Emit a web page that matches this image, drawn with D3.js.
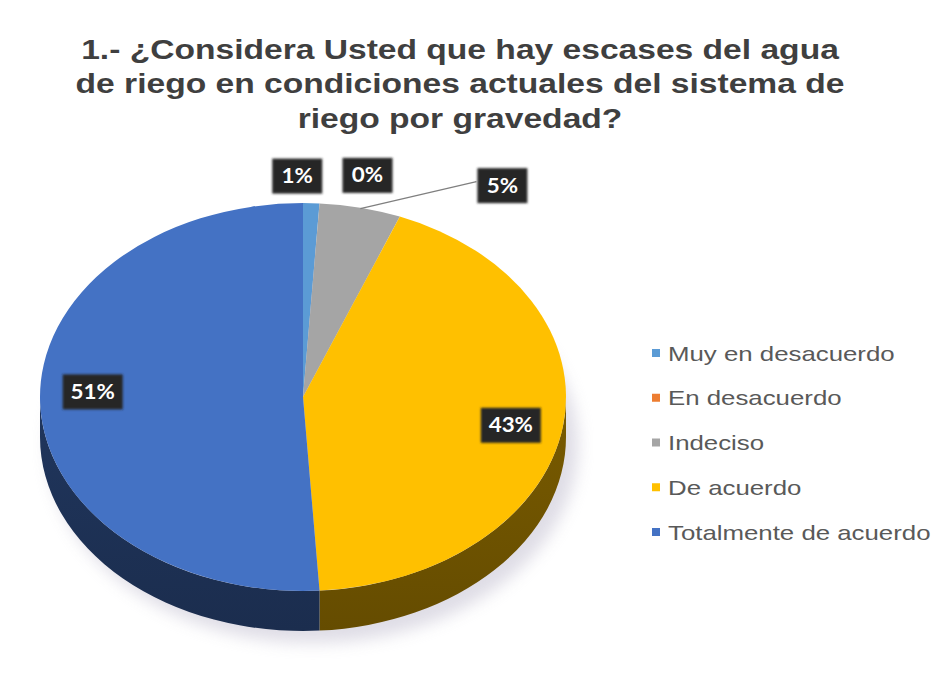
<!DOCTYPE html>
<html>
<head>
<meta charset="utf-8">
<script src="https://cdn.jsdelivr.net/npm/d3@7"></script>
<style>
  html, body { margin: 0; padding: 0; background: #ffffff; }
  svg { display: block; }
</style>
</head>
<body>
<script>
// Survey answers, in drawing order (clockwise from 12 o'clock)
const categories = ["Muy en desacuerdo", "En desacuerdo", "Indeciso", "De acuerdo", "Totalmente de acuerdo"];
const values = [1, 0, 5, 43, 51];
const colors = ["#5B9BD5", "#ED7D31", "#A5A5A5", "#FFC000", "#4472C4"];
const titleLines = [
  "1.- ¿Considera Usted que hay escases del agua",
  "de riego en condiciones actuales del sistema de",
  "riego por gravedad?"
];

const W = 936, H = 688;
const stretch = 1.23;            // horizontal stretch applied to legend text
const cx = 303, cy = 397;        // centre of the pie's top face
const rx = 263, ry = 194;        // ellipse radii of the top face
const depth = 40;                // thickness of the disc

const svg = d3.select("body").append("svg")
  .attr("width", W).attr("height", H);

const defs = svg.append("defs");
const sh = defs.append("filter").attr("id", "shadow")
  .attr("x", "-20%").attr("y", "-20%").attr("width", "140%").attr("height", "140%");
sh.append("feGaussianBlur").attr("stdDeviation", 8);

const boxBlur = defs.append("filter").attr("id", "soft");
boxBlur.append("feGaussianBlur").attr("stdDeviation", 0.8);

// Title
const title = svg.append("g").attr("class", "title");
titleLines.forEach((t, i) => {
  title.append("text")
    .attr("transform", `translate(460,${58.5 + i * 34.5}) scale(1.2,1)`)
    .attr("text-anchor", "middle")
    .attr("font-family", "Liberation Sans, Arial, sans-serif")
    .attr("font-weight", "bold")
    .attr("font-size", 28)
    .attr("fill", "#3f3f3f")
    .text(t);
});

// Pie angles
const pie = d3.pie().sort(null).value(d => d)(values);
const arcs = pie.map((p, i) => ({ ...p, i, name: categories[i], color: colors[i] }));

const pt = (a, dy = 0) => [cx + rx * Math.sin(a), cy - ry * Math.cos(a) + dy];

// Soft shadow under the disc
svg.append("ellipse")
  .attr("cx", cx + 10).attr("cy", cy + depth + 8)
  .attr("rx", rx + 2).attr("ry", ry + 4)
  .attr("fill", "#b8b4c8").attr("opacity", 0.45)
  .attr("filter", "url(#shadow)");

// Side walls: only the front half (angles between PI/2 and 3PI/2) is visible
const sideG = svg.append("g").attr("class", "sides");
arcs.forEach(d => {
  const a0 = Math.max(d.startAngle, Math.PI / 2);
  const a1 = Math.min(d.endAngle, 3 * Math.PI / 2);
  if (a1 <= a0) return;
  const p0 = pt(a0), p1 = pt(a1), q1 = pt(a1, depth), q0 = pt(a0, depth);
  const large = (a1 - a0) > Math.PI ? 1 : 0;
  const path = `M${p0}A${rx},${ry} 0 ${large} 1 ${p1}L${q1}A${rx},${ry} 0 ${large} 0 ${q0}Z`;
  const base = d3.rgb(d.color);
  const grad = defs.append("linearGradient").attr("id", "side" + d.i)
    .attr("x1", 0).attr("y1", 0).attr("x2", 0).attr("y2", 1);
  grad.append("stop").attr("offset", "0%").attr("stop-color", base.darker(2.1));
  grad.append("stop").attr("offset", "100%").attr("stop-color", base.darker(2.6));
  sideG.append("path").attr("d", path).attr("fill", `url(#side${d.i})`);
});

// Top face: circular d3.arc squashed into an ellipse
const arcGen = d3.arc().innerRadius(0).outerRadius(rx);
svg.append("g")
  .attr("transform", `translate(${cx},${cy}) scale(1,${ry / rx})`)
  .selectAll("path")
  .data(arcs)
  .join("path")
  .attr("d", arcGen)
  .attr("fill", d => d.color);

// Data labels
const mid = d => (d.startAngle + d.endAngle) / 2;
// per-slice nudges for the small slices whose labels sit above the disc
const outsideNudge = { 0: [-14, -27], 1: [48, -28], 2: [142, -22] };

const labels = svg.append("g").attr("class", "labels");
arcs.forEach(d => {
  const a = mid(d);
  let x, y, leader = null;
  if (d.value >= 10) {
    x = cx + rx * 0.8 * Math.sin(a);
    y = cy - ry * 0.8 * Math.cos(a);
    if (d.i === 4) y -= 10; else y += 4;
  } else {
    const [ax, ay] = pt(a);
    const [nx, ny] = outsideNudge[d.i];
    x = ax + nx; y = ay + ny;
    if (d.i === 2) leader = [[ax, ay + 1], [x - 26, y - 4]];
  }
  if (leader) {
    labels.append("path")
      .attr("d", d3.line()(leader))
      .attr("stroke", "#7f7f7f").attr("stroke-width", 1.2).attr("fill", "none");
  }
  const txt = Math.round(d.value) + "%";
  const bw = txt.length === 3 ? 60 : 50, bh = 35;
  labels.append("rect")
    .attr("x", x - bw / 2).attr("y", y - bh / 2)
    .attr("width", bw).attr("height", bh)
    .attr("fill", "#262626").attr("filter", "url(#soft)");
  labels.append("text")
    .attr("transform", `translate(${x},${y + 7}) scale(1.12,1)`)
    .attr("text-anchor", "middle")
    .attr("font-family", "Lato, Liberation Sans, sans-serif")
    .attr("font-weight", "bold")
    .attr("font-size", 20)
    .attr("fill", "#ffffff")
    .text(txt);
});

// Legend
const legend = svg.append("g").attr("class", "legend");
const ly = d3.scalePoint().domain(categories).range([353, 532]);
categories.forEach((c, i) => {
  const y = ly(c);
  legend.append("rect")
    .attr("x", 652).attr("y", y - 4).attr("width", 8).attr("height", 8)
    .attr("fill", colors[i]);
  legend.append("text")
    .attr("transform", `translate(668,${y + 7.5}) scale(${stretch},1)`)
    .attr("font-family", "Liberation Sans, Arial, sans-serif")
    .attr("font-size", 21)
    .attr("fill", "#595959")
    .text(c);
});
</script>
</body>
</html>
